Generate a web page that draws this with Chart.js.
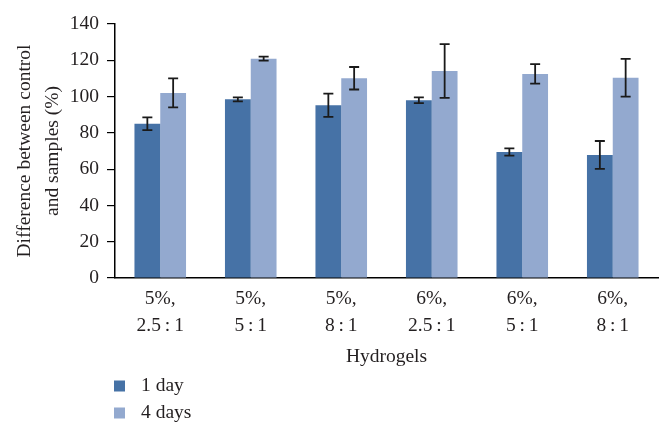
<!DOCTYPE html>
<html>
<head>
<meta charset="utf-8">
<script src="https://cdn.jsdelivr.net/npm/chart.js@4/dist/chart.umd.min.js"></script>
<style>
html,body{margin:0;padding:0;background:#fff;}
#wrap{width:672px;height:438px;position:relative;}
</style>
</head>
<body>
<div id="wrap"><canvas id="c" width="672" height="438"></canvas></div>
<script>
const categories = [['5%,','2.5\u2009:\u20091'],['5%,','5\u2009:\u20091'],['5%,','8\u2009:\u20091'],['6%,','2.5\u2009:\u20091'],['6%,','5\u2009:\u20091'],['6%,','8\u2009:\u20091']];
const seriesNames = ['1 day','4 days'];
const day1 = [85, 98.5, 95.2, 98, 69.5, 67.8];
const day1Err = [3.5, 1.1, 6.4, 1.6, 2.0, 7.7];
const day4 = [102, 120.9, 110.1, 114.1, 112.5, 110.4];
const day4Err = [8.0, 1.1, 6.2, 14.8, 5.4, 10.4];
const yTicks = [0,20,40,60,80,100,120,140];

const FONT = "'Liberation Serif', 'Times New Roman', serif";
const FS = 19.5;
const TXT = '#231f20';
const colors = ['#4672a6', '#93a9cf'];

const errorBars = {
  id: 'errorBars',
  afterDatasetsDraw(chart) {
    const ctx = chart.ctx;
    const y = chart.scales.y;
    const errs = [day1Err, day4Err];
    ctx.save();
    ctx.strokeStyle = '#1a1a1a';
    ctx.lineWidth = 1.8;
    chart.data.datasets.forEach((ds, di) => {
      const meta = chart.getDatasetMeta(di);
      meta.data.forEach((bar, i) => {
        const v = ds.data[i], e = errs[di][i];
        const x = bar.x;
        const yt = y.getPixelForValue(v + e), yb = y.getPixelForValue(v - e);
        const hw = 5;
        ctx.beginPath();
        ctx.moveTo(x, yt); ctx.lineTo(x, yb);
        ctx.moveTo(x - hw, yt); ctx.lineTo(x + hw, yt);
        ctx.moveTo(x - hw, yb); ctx.lineTo(x + hw, yb);
        ctx.stroke();
      });
    });
    ctx.restore();
  }
};

const customLegend = {
  id: 'customLegend',
  afterDraw(chart) {
    const ctx = chart.ctx;
    ctx.save();
    ctx.font = FS + 'px ' + FONT;
    ctx.textBaseline = 'middle';
    chart.data.datasets.forEach((ds, i) => {
      const cy = 386 + i * 27;
      ctx.fillStyle = ds.backgroundColor;
      ctx.fillRect(114, cy - 5.5, 11, 11);
      ctx.fillStyle = TXT;
      ctx.fillText(ds.label, 141, cy);
    });
    ctx.restore();
  }
};

new Chart(document.getElementById('c'), {
  type: 'bar',
  data: {
    labels: categories,
    datasets: [
      { label: seriesNames[0], data: day1, backgroundColor: colors[0], categoryPercentage: 0.57, barPercentage: 1.0 },
      { label: seriesNames[1], data: day4, backgroundColor: colors[1], categoryPercentage: 0.57, barPercentage: 1.0 }
    ]
  },
  options: {
    responsive: false,
    animation: false,
    devicePixelRatio: 1,
    layout: { padding: { left: 0, right: 14, top: 24, bottom: 66 } },
    plugins: { legend: { display: false }, tooltip: { enabled: false } },
    scales: {
      x: {
        grid: { display: false, drawTicks: false },
        border: { display: true, color: '#000', width: 1.5 },
        ticks: { color: TXT, font: { family: FONT, size: FS, lineHeight: 1.35 }, padding: 8, maxRotation: 0, autoSkip: false },
        title: { display: true, text: 'Hydrogels', color: TXT, font: { family: FONT, size: FS, lineHeight: 1.2 }, padding: { top: 0, bottom: 3 } },
        afterFit(scale) { scale.height = 94; }
      },
      y: {
        min: 0, max: 140,
        afterBuildTicks(scale) { scale.ticks = yTicks.map(v => ({ value: v })); },
        grid: { display: true, drawOnChartArea: false, drawTicks: true, tickLength: 8, color: '#000', lineWidth: 1.2 },
        border: { display: true, color: '#000', width: 1.5 },
        ticks: { color: TXT, font: { family: FONT, size: FS }, padding: 8 },
        title: { display: true, text: ['Difference between control', 'and samples (%)'], color: TXT, font: { family: FONT, size: FS, lineHeight: 1.42 }, padding: { top: 11, bottom: 0 } },
        afterFit(scale) { scale.width = 115; }
      }
    }
  },
  plugins: [errorBars, customLegend]
});
</script>
</body>
</html>
